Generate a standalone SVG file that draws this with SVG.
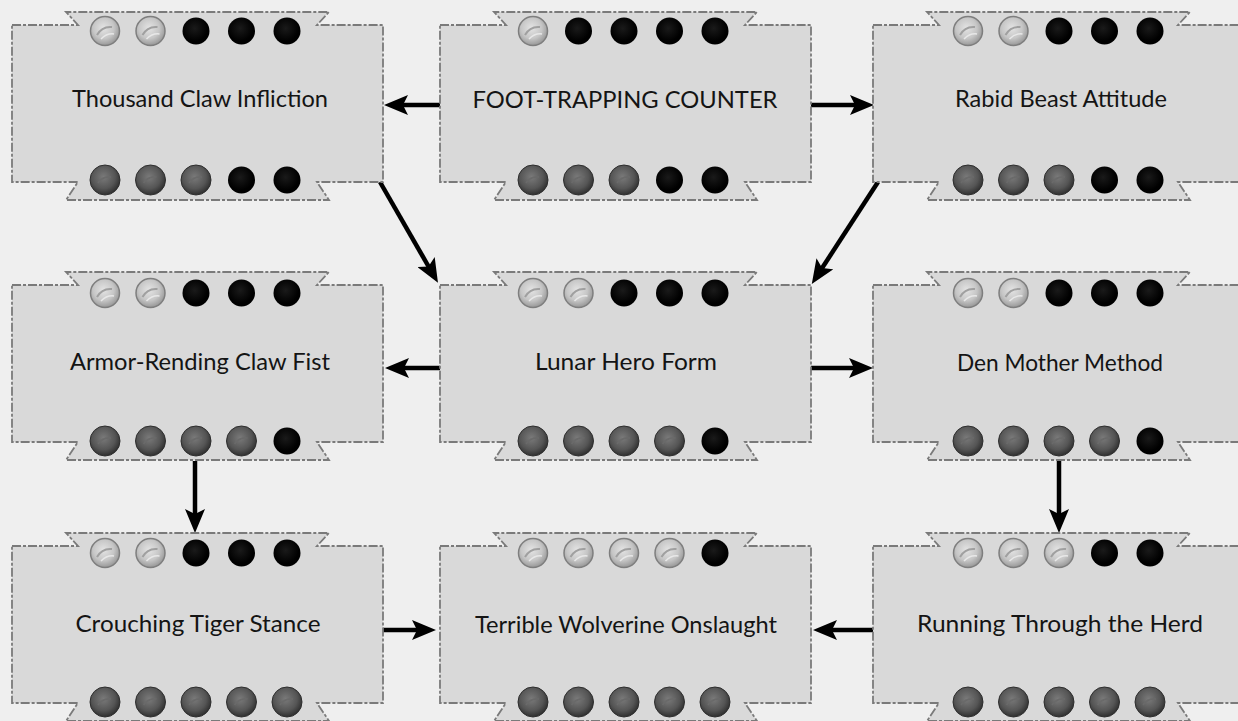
<svg xmlns="http://www.w3.org/2000/svg" width="1238" height="721" viewBox="0 0 1238 721">
<defs>
<radialGradient id="gL" cx="0.45" cy="0.4" r="0.65">
<stop offset="0" stop-color="#e4e4e4"/><stop offset="0.55" stop-color="#c6c6c6"/><stop offset="1" stop-color="#8e8e8e"/>
</radialGradient>
<radialGradient id="gD" cx="0.45" cy="0.4" r="0.65">
<stop offset="0" stop-color="#7a7a7a"/><stop offset="0.6" stop-color="#555"/><stop offset="1" stop-color="#262626"/>
</radialGradient>
<radialGradient id="gB" cx="0.45" cy="0.4" r="0.6">
<stop offset="0" stop-color="#1a1a1a"/><stop offset="0.8" stop-color="#000"/><stop offset="1" stop-color="#000"/>
</radialGradient>
<marker id="ah" markerUnits="userSpaceOnUse" viewBox="0 0 24 20" refX="8" refY="10" markerWidth="24" markerHeight="20" orient="auto">
<path d="M0,0 L24,10 L0,20 L5,10 Z" fill="#000"/>
</marker>
<path id="shape" d="M0,0 L66,0 L54,-13 L317,-13 L305,0 L371,0 L371,157 L305,157 L317,175 L54,175 L66,157 L0,157 Z"/>
<g id="L"><circle r="14.5" fill="url(#gL)" stroke="#7e7e7e" stroke-width="1.5"/><path d="M-8,4 Q-3,-5 7,-4" fill="none" stroke="#a0a0a0" stroke-width="2"/><path d="M-4,8 Q2,2 9,3" fill="none" stroke="#e8e8e8" stroke-width="1.5"/></g>
<g id="D"><circle r="15" fill="url(#gD)" stroke="#2e2e2e" stroke-width="1"/><path d="M-7,3 Q-2,-4 6,-3" fill="none" stroke="#6a6a6a" stroke-width="1.5"/></g>
<g id="B"><circle r="13.5" fill="url(#gB)"/></g>
</defs>
<style>
.bg{fill:#efefef}
.nd{fill:#d9d9d9;stroke:#7a7a7a;stroke-width:1.8;stroke-dasharray:9 2 3 2}
.lbl{font-family:Lato,"Liberation Sans",sans-serif;font-size:23px;fill:#141414;text-anchor:middle}
.cn{stroke:#000;stroke-width:4.5;fill:none;marker-end:url(#ah)}
</style>
<rect class="bg" x="0" y="0" width="1238" height="721"/>

<g id="connectors">
<path class="cn" d="M440,105 L400,105"/>
<path class="cn" d="M811,105 L858,105"/>
<path class="cn" d="M380,182 L430,269"/>
<path class="cn" d="M878,182 L820.5,270.5"/>
<path class="cn" d="M440,368 L401,368"/>
<path class="cn" d="M811,368 L857,368"/>
<path class="cn" d="M195,461 L195,517"/>
<path class="cn" d="M1059,461 L1059,517"/>
<path class="cn" d="M383,630 L420,630"/>
<path class="cn" d="M873,630 L829,630"/>
</g>

<g id="n-thousand">
<use href="#shape" x="12" y="25" class="nd"/>
<use href="#L" x="105" y="31"/><use href="#L" x="150.5" y="31"/><use href="#B" x="196" y="31"/><use href="#B" x="241.5" y="31"/><use href="#B" x="287" y="31"/>
<use href="#D" x="105" y="180"/><use href="#D" x="150.5" y="180"/><use href="#D" x="196" y="180"/><use href="#B" x="241.5" y="180"/><use href="#B" x="287" y="180"/>
<text class="lbl" x="200" y="107" textLength="256" lengthAdjust="spacingAndGlyphs">Thousand Claw Infliction</text>
</g>

<g id="n-foot">
<use href="#shape" x="440" y="25" class="nd"/>
<use href="#L" x="533" y="31"/><use href="#B" x="578.5" y="31"/><use href="#B" x="624" y="31"/><use href="#B" x="669.5" y="31"/><use href="#B" x="715" y="31"/>
<use href="#D" x="533" y="180"/><use href="#D" x="578.5" y="180"/><use href="#D" x="624" y="180"/><use href="#B" x="669.5" y="180"/><use href="#B" x="715" y="180"/>
<text class="lbl" x="625" y="108" textLength="305" lengthAdjust="spacingAndGlyphs">FOOT-TRAPPING COUNTER</text>
</g>

<g id="n-rabid">
<use href="#shape" x="873" y="25" class="nd"/>
<use href="#L" x="968" y="31"/><use href="#L" x="1013.5" y="31"/><use href="#B" x="1059" y="31"/><use href="#B" x="1104.5" y="31"/><use href="#B" x="1150" y="31"/>
<use href="#D" x="968" y="180"/><use href="#D" x="1013.5" y="180"/><use href="#D" x="1059" y="180"/><use href="#B" x="1104.5" y="180"/><use href="#B" x="1150" y="180"/>
<text class="lbl" x="1061" y="107" textLength="212" lengthAdjust="spacingAndGlyphs">Rabid Beast Attitude</text>
</g>

<g id="n-armor">
<use href="#shape" x="12" y="285" class="nd"/>
<use href="#L" x="105" y="293"/><use href="#L" x="150.5" y="293"/><use href="#B" x="196" y="293"/><use href="#B" x="241.5" y="293"/><use href="#B" x="287" y="293"/>
<use href="#D" x="105" y="441"/><use href="#D" x="150.5" y="441"/><use href="#D" x="196" y="441"/><use href="#D" x="241.5" y="441"/><use href="#B" x="287" y="441"/>
<text class="lbl" x="200" y="370" textLength="260" lengthAdjust="spacingAndGlyphs">Armor-Rending Claw Fist</text>
</g>

<g id="n-lunar">
<use href="#shape" x="440" y="285" class="nd"/>
<use href="#L" x="533" y="293"/><use href="#L" x="578.5" y="293"/><use href="#B" x="624" y="293"/><use href="#B" x="669.5" y="293"/><use href="#B" x="715" y="293"/>
<use href="#D" x="533" y="441"/><use href="#D" x="578.5" y="441"/><use href="#D" x="624" y="441"/><use href="#D" x="669.5" y="441"/><use href="#B" x="715" y="441"/>
<text class="lbl" x="626" y="370" textLength="182" lengthAdjust="spacingAndGlyphs">Lunar Hero Form</text>
</g>

<g id="n-den">
<use href="#shape" x="873" y="285" class="nd"/>
<use href="#L" x="968" y="293"/><use href="#L" x="1013.5" y="293"/><use href="#B" x="1059" y="293"/><use href="#B" x="1104.5" y="293"/><use href="#B" x="1150" y="293"/>
<use href="#D" x="968" y="441"/><use href="#D" x="1013.5" y="441"/><use href="#D" x="1059" y="441"/><use href="#D" x="1104.5" y="441"/><use href="#B" x="1150" y="441"/>
<text class="lbl" x="1060" y="371" textLength="206" lengthAdjust="spacingAndGlyphs">Den Mother Method</text>
</g>

<g id="n-crouching">
<use href="#shape" x="12" y="546" class="nd"/>
<use href="#L" x="105" y="553"/><use href="#L" x="150.5" y="553"/><use href="#B" x="196" y="553"/><use href="#B" x="241.5" y="553"/><use href="#B" x="287" y="553"/>
<use href="#D" x="105" y="702"/><use href="#D" x="150.5" y="702"/><use href="#D" x="196" y="702"/><use href="#D" x="241.5" y="702"/><use href="#D" x="287" y="702"/>
<text class="lbl" x="198" y="632" textLength="245" lengthAdjust="spacingAndGlyphs">Crouching Tiger Stance</text>
</g>

<g id="n-terrible">
<use href="#shape" x="440" y="546" class="nd"/>
<use href="#L" x="533" y="553"/><use href="#L" x="578.5" y="553"/><use href="#L" x="624" y="553"/><use href="#L" x="669.5" y="553"/><use href="#B" x="715" y="553"/>
<use href="#D" x="533" y="702"/><use href="#D" x="578.5" y="702"/><use href="#D" x="624" y="702"/><use href="#D" x="669.5" y="702"/><use href="#D" x="715" y="702"/>
<text class="lbl" x="626" y="633" textLength="302" lengthAdjust="spacingAndGlyphs">Terrible Wolverine Onslaught</text>
</g>

<g id="n-running">
<use href="#shape" x="873" y="546" class="nd"/>
<use href="#L" x="968" y="553"/><use href="#L" x="1013.5" y="553"/><use href="#L" x="1059" y="553"/><use href="#B" x="1104.5" y="553"/><use href="#B" x="1150" y="553"/>
<use href="#D" x="968" y="702"/><use href="#D" x="1013.5" y="702"/><use href="#D" x="1059" y="702"/><use href="#D" x="1104.5" y="702"/><use href="#D" x="1150" y="702"/>
<text class="lbl" x="1060" y="632" textLength="286" lengthAdjust="spacingAndGlyphs">Running Through the Herd</text>
</g>
</svg>
